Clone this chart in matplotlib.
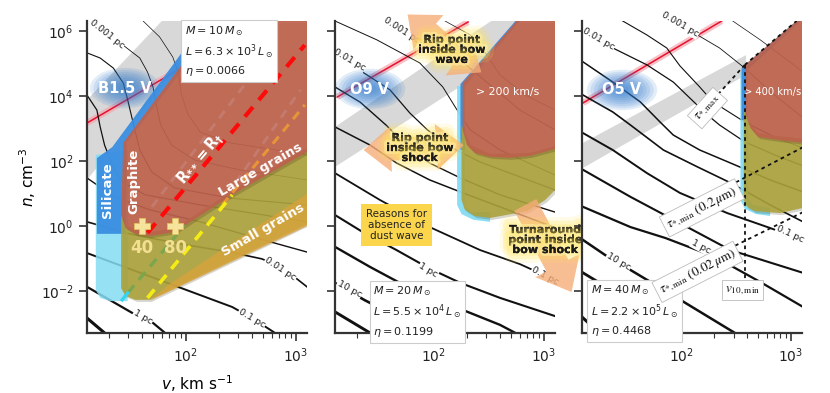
import numpy as np
import matplotlib
matplotlib.use("Agg")
import matplotlib.pyplot as plt
import matplotlib.patheffects as pe
from matplotlib.patches import Polygon, Ellipse
from matplotlib.ticker import FixedLocator, LogLocator, NullFormatter, NullLocator

plt.rcParams["font.family"] = "DejaVu Sans"
plt.rcParams["mathtext.fontset"] = "dejavusans"

# ---------------- data (log10 v [km/s], log10 n [cm^-3]) -------------
LOGV_LIM = (1.1, 3.1)
LOGN_LIM = (-3.3, 6.3)

# R0 contour lines, B1.5 V
B15_LOGV = [
    [1.13, 1.29, 1.45, 1.58, 1.65, 1.70, 1.73, 1.77, 1.87, 2.08, 2.49, 3.10],
    [1.61, 1.76, 1.88, 1.93, 1.96, 2.02, 2.13, 2.40, 3.10],
    [1.10, 1.22, 1.34, 1.43, 1.47, 1.52, 1.58, 1.69, 1.90, 2.40, 3.10],
    [1.10, 1.19, 1.22, 1.26, 1.33, 1.42, 1.63, 2.13, 3.10],
    [1.10, 1.22, 1.35, 1.67, 2.13, 2.58, 3.10],
    [1.10, 1.49, 1.95, 2.40, 2.69, 2.88, 3.01, 3.10],
    [1.10, 1.76, 2.42, 2.60, 2.81],
    [1.10, 1.51, 1.61, 1.70, 1.81],
    [1.10, 1.26],
]
B15_LOGN = [
    [6.30, 5.93, 5.50, 5.16, 4.73, 4.27, 3.72, 3.10, 2.48, 2.02, 1.72, 1.41],
    [6.30, 5.81, 5.19, 4.70, 4.02, 3.41, 2.88, 2.55, 2.18],
    [5.32, 5.16, 4.85, 4.39, 3.87, 3.16, 2.33, 1.65, 1.16, 0.85, 0.64],
    [4.02, 3.56, 3.04, 2.48, 1.87, 1.35, 0.95, 0.64, 0.12],
    [1.47, 1.19, 0.89, 0.49, 0.12, -0.32, -0.81],
    [0.12, -0.25, -0.56, -0.81, -1.02, -1.30, -1.64, -1.88],
    [-0.84, -1.67, -2.50, -2.84, -3.30],
    [-1.88, -2.68, -2.84, -2.99, -3.30],
    [-2.84, -3.30],
]

# R0 contour lines, O9 V
O9_LOGV = [
    [1.10, 1.48, 1.87, 2.08, 2.21, 2.33, 2.60, 3.10],
    [1.55, 1.87, 2.05, 2.26, 2.51, 2.78, 3.10],
    [2.10, 2.33, 2.46, 2.60, 2.83, 3.10],
    [1.10, 1.35, 1.60, 1.78, 1.94, 2.15, 2.42, 3.10],
    [1.10, 1.33, 1.57, 1.74, 1.96, 2.24, 2.60, 3.10],
    [1.10, 1.42, 1.66, 1.96, 2.24, 2.60, 3.10],
    [1.10, 1.51, 1.96, 2.42, 2.78, 3.10],
    [1.10, 1.35, 1.66, 1.95, 2.24, 2.60, 3.10],
    [1.10, 1.42, 1.69, 2.15, 2.60, 2.74],
    [1.10, 1.37, 1.69, 1.92],
    [1.10, 1.42],
]
O9_LOGN = [
    [6.30, 5.72, 5.01, 4.27, 3.56, 2.95, 2.33, 1.56],
    [6.30, 5.65, 5.47, 5.04, 4.33, 3.56, 2.95],
    [6.30, 5.87, 5.35, 4.64, 4.02, 3.56],
    [5.41, 4.73, 4.18, 3.47, 2.95, 2.42, 1.96, 1.10],
    [4.27, 3.80, 3.08, 2.48, 1.93, 1.47, 0.95, 0.42],
    [3.04, 2.48, 1.93, 1.41, 1.04, 0.58, -0.06],
    [1.62, 0.79, -0.04, -0.75, -1.18, -1.67],
    [0.33, -0.19, -0.75, -1.30, -1.76, -2.22, -2.78],
    [-0.65, -1.27, -1.76, -2.44, -3.05, -3.30],
    [-1.76, -2.29, -2.84, -3.30],
    [-2.65, -3.30],
]

# R0 contour lines, O5 V
O5_LOGV = [
    [2.47, 2.72, 2.99, 3.11],
    [2.15, 2.35, 2.58, 2.85, 3.11],
    [1.47, 1.69, 1.87, 1.99, 2.17, 2.29, 2.58, 2.85, 3.11],
    [1.38, 1.69, 1.93, 2.08, 2.24, 2.35, 2.58, 2.85, 3.11],
    [1.11, 1.38, 1.63, 1.81, 1.93, 2.17, 2.45, 2.81, 3.11],
    [1.11, 1.38, 1.54, 1.84, 2.15, 2.45, 2.81, 3.11],
    [1.11, 1.38, 1.69, 1.99, 2.42, 2.81, 3.11],
    [1.11, 1.54, 1.99, 2.45, 3.11],
    [1.11, 1.54, 1.86, 2.31, 2.72, 3.11],
    [1.11, 1.31, 1.54, 1.95, 2.49],
    [1.11, 2.01],
    [1.11, 1.26],
]
O5_LOGN = [
    [6.30, 5.72, 5.04, 4.73],
    [5.87, 5.47, 4.85, 4.02, 3.32],
    [6.30, 5.87, 5.47, 4.92, 4.27, 3.81, 3.19, 2.73, 2.39],
    [5.47, 4.95, 4.42, 3.93, 3.41, 3.10, 2.58, 2.18, 1.84],
    [5.04, 4.42, 3.81, 3.19, 2.79, 2.33, 1.93, 1.41, 1.04],
    [4.02, 3.50, 3.10, 2.33, 1.81, 1.32, 0.64, 0.12],
    [2.85, 2.33, 1.62, 1.01, 0.39, -0.07, -0.44],
    [1.72, 0.89, 0.08, -0.75, -1.45],
    [0.58, -0.04, -0.38, -0.96, -1.73, -2.50],
    [-0.44, -0.90, -1.36, -2.19, -3.30],
    [-1.45, -3.30],
    [-2.84, -3.30],
]

# gray transition bands
B15_BAND_LOGV = [1.10, 1.78, 2.26, 1.10]
B15_BAND_LOGN = [3.87, 6.30, 6.30, 1.41]
O9_BAND_LOGV = [1.10, 2.52, 2.75, 2.26, 1.10]
O9_BAND_LOGN = [3.04, 6.30, 6.30, 4.33, 1.81]
O5_BAND_LOGV = [1.11, 2.59, 2.59, 1.11]
O5_BAND_LOGN = [2.55, 5.25, 4.64, 1.78]

# red lines
B15_RED_LOGV, B15_RED_LOGN = [1.10, 2.69], [3.16, 6.30]
O9_RED_LOGV, O9_RED_LOGN = [1.12, 2.31], [3.96, 6.27]
O5_RED_LOGV, O5_RED_LOGN = [1.11, 2.37], [3.78, 6.30]

# B1.5 V grain regions
B15_CYAN_LOGV = [1.18, 1.18, 1.22, 1.31, 1.47, 1.47]
B15_CYAN_LOGN = [2.18, -1.98, -2.22, -2.32, -2.32, 2.33]
B15_BLUE_LOGV = [1.19, 1.19, 1.33, 1.90, 2.17, 2.31, 2.00, 1.46, 1.45]
B15_BLUE_LOGN = [-0.25, 2.08, 2.42, 5.04, 6.30, 6.30, 4.95, 2.55, -0.25]
B15_OLIVE_LOGV = [1.41, 1.41, 1.45, 1.54, 1.67, 3.10, 3.10, 2.42, 1.90, 1.67, 1.54, 1.45]
B15_OLIVE_LOGN = [0.33, -1.92, -2.16, -2.28, -2.28, 0.05, 2.39, 1.07, -0.07, -0.19, -0.13, 0.02]
B15_ORANGE_LOGV = [1.67, 3.10, 3.10, 1.84]
B15_ORANGE_LOGN = [-2.31, -0.01, 0.98, -1.82]
B15_BROWN_LOGV = [1.96, 1.43, 1.41, 1.45, 1.54, 1.67, 1.90, 2.42, 3.10, 3.10, 2.26]
B15_BROWN_LOGN = [4.95, 2.55, 0.33, -0.07, -0.25, -0.32, -0.19, 0.95, 2.27, 6.30, 6.30]

# B1.5 V dashed lines
B15_RDASH_LOGV, B15_RDASH_LOGN = [1.65, 3.08], [-0.22, 5.56]
B15_YDASH_LOGV, B15_YDASH_LOGN = [1.65, 2.42], [-2.22, 0.95]
B15_GDASH_LOGV, B15_GDASH_LOGN = [1.47, 1.99], [-2.07, 0.02]
B15_CDASH_LOGV, B15_CDASH_LOGN = [1.42, 1.47], [-2.28, -2.07]
B15_ODASH_LOGV, B15_ODASH_LOGN = [2.33, 3.08], [0.64, 3.72]
B15_FDASH1_LOGV, B15_FDASH1_LOGN = [1.69, 2.58], [0.58, 4.55]
B15_FDASH2_LOGV, B15_FDASH2_LOGN = [2.45, 3.04], [1.32, 4.18]

# probe points (v, n)
PROBE_V = [40, 80]
PROBE_N = [1.0, 1.0]

# O9 V grain regions
O9_CYAN_LOGV = [2.21, 2.21, 2.25, 2.36, 2.51, 2.51, 2.33, 2.28, 2.28]
O9_CYAN_LOGN = [4.30, 0.64, 0.36, 0.18, 0.12, 0.42, 0.42, 0.64, 4.30]
O9_BLUE_LOGV = [2.24, 2.74, 2.78, 2.28, 2.28, 2.24]
O9_BLUE_LOGN = [4.36, 6.30, 6.30, 4.30, 2.33, 2.33]
O9_OLIVE_LOGV = [2.25, 2.25, 2.28, 2.37, 2.51, 2.85, 3.01, 3.10, 3.10, 2.87, 2.51, 2.33]
O9_OLIVE_LOGN = [3.10, 0.79, 0.49, 0.30, 0.24, 0.45, 0.79, 1.10, 2.45, 2.24, 2.21, 2.48]
O9_BROWN_LOGV = [2.26, 2.75, 3.10, 3.10, 2.87, 2.69, 2.51, 2.37, 2.30, 2.26]
O9_BROWN_LOGN = [4.39, 6.30, 6.30, 2.36, 2.15, 2.09, 2.12, 2.24, 2.48, 2.95]

# O5 V grain regions
O5_CYAN_LOGV = [2.54, 2.54, 2.58, 2.68, 2.81, 2.81, 2.65, 2.61, 2.61]
O5_CYAN_LOGN = [4.73, 0.79, 0.52, 0.36, 0.30, 0.55, 0.64, 0.85, 4.73]
O5_BLUE_LOGV = [2.55, 3.05, 3.09, 2.60, 2.60, 2.55]
O5_BLUE_LOGN = [4.85, 6.30, 6.30, 4.79, 3.25, 3.25]
O5_OLIVE_LOGV = [2.57, 2.57, 2.60, 2.67, 2.90, 3.11, 3.11, 2.88, 2.70, 2.63]
O5_OLIVE_LOGN = [3.56, 0.79, 0.58, 0.45, 0.39, 0.55, 2.67, 2.76, 2.85, 3.13]
O5_BROWN_LOGV = [2.58, 3.05, 3.11, 3.11, 2.88, 2.70, 2.63, 2.59]
O5_BROWN_LOGN = [4.95, 6.30, 6.30, 2.55, 2.64, 2.73, 3.01, 3.41]

# O5 V dotted construction lines
O5_VERT_LOGV, O5_VERT_LOGN = [2.58, 2.58], [4.95, -1.76]
O5_EDGE_LOGV, O5_EDGE_LOGN = [2.58, 3.05], [4.95, 6.30]
O5_TMAX_LOGV, O5_TMAX_LOGN = [2.58, 2.29], [4.95, 3.87]
O5_TMIN2_LOGV, O5_TMIN2_LOGN = [3.11, 2.49], [2.42, 1.32]
O5_TMIN02_LOGV, O5_TMIN02_LOGN = [3.11, 2.47], [0.42, -0.65]

# ---------------- styles ----------------
BROWN = "#bd624c"
OLIVE = "#aca23c"
CYAN = "#84dcf2"
BLUE = "#3a8de0"
ORANGE = "#d8a23a"
GRAY = "#d8d8d8"
PEACH = "#f6ad78"
YELLOW = "#fbd64c"

B15_WIDTHS = [0.6, 0.5, 0.8, 0.9, 1.0, 1.2, 1.4, 1.6, 2.2]
O9_WIDTHS = [0.7, 0.6, 0.5, 0.9, 1.0, 1.1, 1.3, 1.5, 1.7, 1.9, 2.1]
O5_WIDTHS = [0.5, 0.6, 0.8, 0.9, 1.1, 1.2, 1.4, 1.5, 1.6, 1.8, 2.0, 2.2]


def lin(a):
    return 10 ** np.asarray(a, dtype=float)


def region(ax, lv, ln, color, alpha=0.9, z=3, shadow=True):
    poly = Polygon(np.column_stack([lin(lv), lin(ln)]), closed=True,
                   fc=color, ec="none", alpha=alpha, zorder=z)
    if shadow:
        poly.set_path_effects([pe.SimplePatchShadow(offset=(1.5, -1.5), alpha=0.2), pe.Normal()])
    ax.add_patch(poly)


def line(ax, lv, ln, **kw):
    ax.plot(lin(lv), lin(ln), **kw)


def clabel(ax, s, lv, ln, rot):
    ax.text(10 ** lv, 10 ** ln, s, rotation=rot, fontsize=6.8, ha="center", va="center",
            color="#222", zorder=2.2, rotation_mode="anchor",
            bbox=dict(fc="white", ec="none", pad=0.4))


def star(ax, x, y, name):
    for k in range(9):
        s = 1 - k * 0.1
        ax.add_patch(Ellipse((x, y), 0.32 * s, 0.13 * s, transform=ax.transAxes,
                             fc="#2a78cc", ec="none", alpha=0.13, zorder=2.5))
    ax.text(x, y, name, transform=ax.transAxes, ha="center", va="center",
            color="white", fontsize=10.5, fontweight="bold", zorder=6)


def infobox(ax, x, y, txt, va):
    ax.text(x, y, txt, transform=ax.transAxes, ha="left", va=va, fontsize=8,
            linespacing=1.35, color="#222", zorder=8,
            bbox=dict(boxstyle="square,pad=0.35", fc="white", ec="#cccccc", lw=0.8))


def glowtext(ax, lv, ln, txt):
    ax.text(10 ** lv, 10 ** ln, txt, ha="center", va="center", fontsize=8,
            fontweight="bold", linespacing=1.0, color="#1a1a1a", zorder=9,
            path_effects=[pe.withStroke(linewidth=14, foreground="#ffe55c", alpha=0.15),
                          pe.withStroke(linewidth=9, foreground="#ffe55c", alpha=0.25),
                          pe.withStroke(linewidth=4, foreground="#fff0a0", alpha=0.6),
                          pe.Normal()])


def fat_arrow(ax, lv0, ln0, lv1, ln1, scale=22):
    ax.annotate("", xy=(10 ** lv1, 10 ** ln1), xytext=(10 ** lv0, 10 ** ln0),
                annotation_clip=False, zorder=7,
                arrowprops=dict(arrowstyle="simple,head_length=0.9,head_width=1.5,tail_width=0.75",
                                fc=PEACH, ec="none", alpha=0.8, mutation_scale=scale,
                                shrinkA=0, shrinkB=0))


def serif_box(ax, lv, ln, txt, rot):
    ax.text(10 ** lv, 10 ** ln, txt, rotation=rot, ha="center", va="center", fontsize=9.5,
            math_fontfamily="stix", family="DejaVu Serif", color="#111", zorder=9,
            rotation_mode="anchor",
            bbox=dict(boxstyle="square,pad=0.25", fc="white", ec="#bbbbbb", lw=0.6))


def base(ax, logv, logn, widths, band_v, band_n, red_v, red_n):
    ax.set_xscale("log")
    ax.set_yscale("log")
    ax.set_xlim(lin(LOGV_LIM))
    ax.set_ylim(lin(LOGN_LIM))
    region(ax, band_v, band_n, GRAY, alpha=1.0, z=1, shadow=False)
    line(ax, red_v, red_n, color="#f4a6b0", lw=4.5, alpha=0.7, zorder=1.4, solid_capstyle="butt")
    line(ax, red_v, red_n, color="#e8112d", lw=1.1, zorder=1.5)
    for lv, ln, w in zip(logv, logn, widths):
        line(ax, lv, ln, color="#111", lw=w, zorder=2)
    for side in ("top", "right"):
        ax.spines[side].set_visible(False)
    for side in ("left", "bottom"):
        ax.spines[side].set_linewidth(1.6)
        ax.spines[side].set_color("#333")
    ax.yaxis.set_major_locator(FixedLocator([1e-2, 1, 1e2, 1e4, 1e6]))
    ax.yaxis.set_minor_locator(NullLocator())
    ax.xaxis.set_major_locator(LogLocator(base=10))
    ax.xaxis.set_minor_locator(LogLocator(base=10, subs=np.arange(2, 10)))
    ax.xaxis.set_minor_formatter(NullFormatter())
    ax.tick_params(which="major", direction="out", length=6, width=1.2, color="#333",
                   labelsize=10, labelcolor="#222")
    ax.tick_params(which="minor", direction="out", length=3.5, width=0.8, color="#333")
    ax.set_facecolor("white")


fig = plt.figure(figsize=(8.3, 3.93), dpi=100)
W, H, B = 0.2651, 0.7939, 0.1527
ax1 = fig.add_axes([0.1048, B, W, H])
ax2 = fig.add_axes([0.4036, B, W, H])
ax3 = fig.add_axes([0.7012, B, W, H])

# ---------------- panel 1: B1.5 V ----------------
base(ax1, B15_LOGV, B15_LOGN, B15_WIDTHS, B15_BAND_LOGV, B15_BAND_LOGN, B15_RED_LOGV, B15_RED_LOGN)
star(ax1, 0.173, 0.785, "B1.5 V")
region(ax1, B15_CYAN_LOGV, B15_CYAN_LOGN, CYAN, alpha=0.85, z=3, shadow=False)
region(ax1, B15_BLUE_LOGV, B15_BLUE_LOGN, BLUE, alpha=0.95, z=3.1, shadow=False)
region(ax1, B15_OLIVE_LOGV, B15_OLIVE_LOGN, OLIVE, alpha=0.9, z=3.2)
region(ax1, B15_ORANGE_LOGV, B15_ORANGE_LOGN, ORANGE, alpha=0.8, z=3.3, shadow=False)
region(ax1, B15_BROWN_LOGV, B15_BROWN_LOGN, BROWN, alpha=0.92, z=3.4)
dash = (0, (3, 2.2))
line(ax1, B15_FDASH1_LOGV, B15_FDASH1_LOGN, color="#c47a6c", lw=2.2, ls=dash, zorder=5)
line(ax1, B15_FDASH2_LOGV, B15_FDASH2_LOGN, color="#c47a6c", lw=2.2, ls=dash, zorder=5)
line(ax1, B15_ODASH_LOGV, B15_ODASH_LOGN, color="#e8953a", lw=2.2, ls=dash, zorder=5)
line(ax1, B15_GDASH_LOGV, B15_GDASH_LOGN, color="#7ba64e", lw=2.4, ls=dash, zorder=5)
line(ax1, B15_CDASH_LOGV, B15_CDASH_LOGN, color="#37d3f0", lw=2.4, zorder=5)
line(ax1, B15_YDASH_LOGV, B15_YDASH_LOGN, color="#f5ec16", lw=2.6, ls=dash, zorder=5)
line(ax1, B15_RDASH_LOGV, B15_RDASH_LOGN, color="#ff0a0a", lw=3.0, ls=dash, zorder=5)

ax1.plot(PROBE_V, PROBE_N, ls="none", marker="P", ms=12, mfc="#f6e39c", mec="#e0c060",
         mew=0.6, zorder=7)
for v, n in zip(PROBE_V, PROBE_N):
    ax1.annotate(f"{v}", (v, n), xytext=(0, -16), textcoords="offset points", ha="center",
                 va="center", fontsize=12, fontweight="bold", color="#f3df92", zorder=7)

wkw = dict(color="white", fontweight="bold", ha="center", va="center", zorder=6)
ax1.text(10 ** 1.29, 10 ** 1.10, "Silicate", rotation=90, fontsize=9.5, **wkw)
ax1.text(10 ** 1.53, 10 ** 1.35, "Graphite", rotation=90, fontsize=9.5, **wkw)
ax1.text(10 ** 2.13, 10 ** 2.08, r"$\mathbf{R_{**} = R_{\dagger}}$", rotation=50, fontsize=10.5, **wkw)
ax1.text(10 ** 2.68, 10 ** 1.72, "Large grains", rotation=30, fontsize=9.5, **wkw)
ax1.text(10 ** 2.70, 10 ** -0.13, "Small grains", rotation=30, fontsize=9.5, **wkw)

clabel(ax1, "0.001 pc", 1.28, 5.90, -38)
clabel(ax1, "0.01 pc", 2.86, -1.33, -33)
clabel(ax1, "0.1 pc", 2.60, -2.84, -30)
clabel(ax1, "1 pc", 1.61, -2.81, -30)
infobox(ax1, 0.445, 0.99, "$M = 10\\,M_\\odot$\n$L = 6.3\\times10^3\\,L_\\odot$\n$\\eta = 0.0066$", "top")

ax1.set_ylabel(r"$n$, cm$^{-3}$", fontsize=11, labelpad=2)
ax1.set_xlabel(r"$v$, km s$^{-1}$", fontsize=11, labelpad=6)

# ---------------- panel 2: O9 V ----------------
base(ax2, O9_LOGV, O9_LOGN, O9_WIDTHS, O9_BAND_LOGV, O9_BAND_LOGN, O9_RED_LOGV, O9_RED_LOGN)
ax2.set_yticklabels([])
star(ax2, 0.159, 0.782, "O9 V")
region(ax2, O9_CYAN_LOGV, O9_CYAN_LOGN, CYAN, alpha=0.95, z=3, shadow=False)
region(ax2, O9_BLUE_LOGV, O9_BLUE_LOGN, BLUE, alpha=0.95, z=3.1, shadow=False)
region(ax2, O9_OLIVE_LOGV, O9_OLIVE_LOGN, OLIVE, alpha=0.9, z=3.2)
region(ax2, O9_BROWN_LOGV, O9_BROWN_LOGN, BROWN, alpha=0.92, z=3.4)
ax2.text(10 ** 2.67, 10 ** 4.12, "> 200 km/s", color="white", fontsize=7.8, ha="center",
         va="center", zorder=6)

fat_arrow(ax2, 2.12, 5.45, 1.76, 6.50)
fat_arrow(ax2, 2.12, 5.45, 2.43, 4.72)
fat_arrow(ax2, 1.87, 2.39, 1.36, 2.33)
fat_arrow(ax2, 1.87, 2.39, 2.27, 2.48)
fat_arrow(ax2, 2.83, 0.64, 3.25, -2.04, scale=24)
glowtext(ax2, 2.16, 5.41, "Rip point\ninside bow\nwave")
glowtext(ax2, 1.87, 2.39, "Rip point\ninside bow\nshock")
glowtext(ax2, 3.01, -0.44, "Turnaround\npoint inside\nbow shock")
ax2.text(10 ** 1.66, 10 ** 0.02, "Reasons for\nabsence of\ndust wave", ha="center", va="center",
         fontsize=7.5, linespacing=1.1, color="#222", zorder=8,
         bbox=dict(boxstyle="square,pad=0.5", fc=YELLOW, ec="none"))

clabel(ax2, "0.001 pc", 1.71, 6.02, -33)
clabel(ax2, "0.01 pc", 1.23, 5.10, -30)
clabel(ax2, "0.1 pc", 3.01, -1.55, -28)
clabel(ax2, "1 pc", 1.95, -1.36, -30)
clabel(ax2, "10 pc", 1.23, -1.95, -28)
infobox(ax2, 0.175, 0.155, "$M = 20\\,M_\\odot$\n$L = 5.5\\times10^4\\,L_\\odot$\n$\\eta = 0.1199$", "top")

# ---------------- panel 3: O5 V ----------------
base(ax3, O5_LOGV, O5_LOGN, O5_WIDTHS, O5_BAND_LOGV, O5_BAND_LOGN, O5_RED_LOGV, O5_RED_LOGN)
ax3.set_yticklabels([])
star(ax3, 0.182, 0.779, "O5 V")
region(ax3, O5_CYAN_LOGV, O5_CYAN_LOGN, CYAN, alpha=0.95, z=3, shadow=False)
region(ax3, O5_BLUE_LOGV, O5_BLUE_LOGN, BLUE, alpha=0.95, z=3.1, shadow=False)
region(ax3, O5_OLIVE_LOGV, O5_OLIVE_LOGN, OLIVE, alpha=0.9, z=3.2)
region(ax3, O5_BROWN_LOGV, O5_BROWN_LOGN, BROWN, alpha=0.92, z=3.4)
ax3.text(10 ** 2.83, 10 ** 4.12, "> 400 km/s", color="white", fontsize=7.2, ha="center",
         va="center", zorder=6)

dot = dict(color="#111", lw=1.3, ls=(0, (2, 2)), zorder=6)
for lv, ln in [(O5_VERT_LOGV, O5_VERT_LOGN), (O5_EDGE_LOGV, O5_EDGE_LOGN),
               (O5_TMAX_LOGV, O5_TMAX_LOGN), (O5_TMIN2_LOGV, O5_TMIN2_LOGN),
               (O5_TMIN02_LOGV, O5_TMIN02_LOGN)]:
    line(ax3, lv, ln, **dot)
serif_box(ax3, 2.24, 3.62, r"$\tau_{*,\mathrm{max}}$", 48)
serif_box(ax3, 2.19, 0.55, r"$\tau_{*,\mathrm{min}}\ (0.2\,\mu\mathrm{m})$", 27)
serif_box(ax3, 2.15, -1.42, r"$\tau_{*,\mathrm{min}}\ (0.02\,\mu\mathrm{m})$", 27)
serif_box(ax3, 2.56, -1.98, r"$v_{10,\mathrm{min}}$", 0)

clabel(ax3, "0.001 pc", 1.99, 6.18, -30)
clabel(ax3, "0.01 pc", 1.25, 5.75, -30)
clabel(ax3, "0.1 pc", 2.99, -0.25, -25)
clabel(ax3, "1 pc", 2.18, -0.65, -28)
clabel(ax3, "10 pc", 1.43, -1.12, -30)
infobox(ax3, 0.04, 0.158, "$M = 40\\,M_\\odot$\n$L = 2.2\\times10^5\\,L_\\odot$\n$\\eta = 0.4468$", "top")

fig.savefig("out.png", dpi=100)
